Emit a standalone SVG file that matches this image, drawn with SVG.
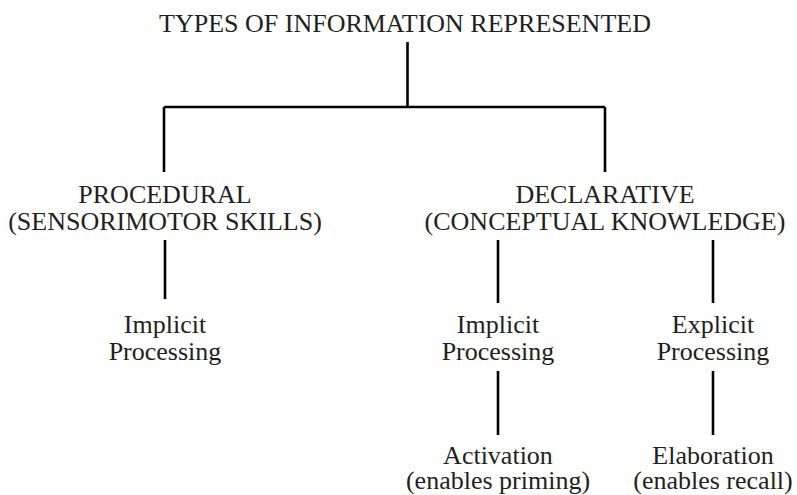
<svg xmlns="http://www.w3.org/2000/svg" width="797" height="495" viewBox="0 0 797 495">
<style>
text{font-family:"Liberation Serif","Times New Roman",serif;font-size:26px;fill:#231f20;text-anchor:middle}
.c line{stroke:#000;stroke-width:2.6;fill:none}
</style>
<rect width="797" height="495" fill="#fff"/>
<g id="root"><text x="405" y="32">TYPES OF INFORMATION REPRESENTED</text></g>
<g id="procedural"><text x="165" y="203">PROCEDURAL</text><text x="165" y="230">(SENSORIMOTOR SKILLS)</text></g>
<g id="declarative"><text x="605" y="203">DECLARATIVE</text><text x="605" y="230">(CONCEPTUAL KNOWLEDGE)</text></g>
<g id="proc-implicit"><text x="165" y="333">Implicit</text><text x="165" y="360">Processing</text></g>
<g id="decl-implicit"><text x="498" y="333">Implicit</text><text x="498" y="360">Processing</text></g>
<g id="decl-explicit"><text x="713" y="333">Explicit</text><text x="713" y="360">Processing</text></g>
<g id="activation"><text x="498" y="464">Activation</text><text x="498" y="489">(enables priming)</text></g>
<g id="elaboration"><text x="713" y="464">Elaboration</text><text x="713" y="489">(enables recall)</text></g>
<g class="c" id="connectors">
<line x1="407.5" y1="42" x2="407.5" y2="107"/>
<line x1="164" y1="107" x2="605" y2="107"/>
<line x1="164" y1="107" x2="164" y2="172"/>
<line x1="605" y1="107" x2="605" y2="172"/>
<line x1="165" y1="240" x2="165" y2="299"/>
<line x1="498" y1="240" x2="498" y2="303"/>
<line x1="713" y1="240" x2="713" y2="303"/>
<line x1="498" y1="371" x2="498" y2="435"/>
<line x1="713" y1="371" x2="713" y2="435"/>
</g>
</svg>
